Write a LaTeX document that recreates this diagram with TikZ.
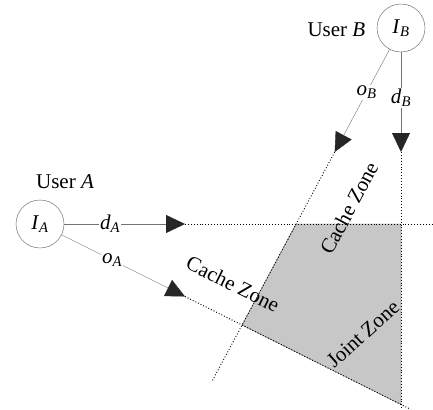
\documentclass[tikz,border=0pt]{standalone}
\usepackage{fontspec}
\setmainfont{Liberation Serif}
\usepackage{tikz}
\usetikzlibrary{arrows.meta,positioning}
\newcommand{\subvar}[2]{\textit{#1}\textsubscript{\textit{#2}}}

\begin{document}
\begin{tikzpicture}[
      x=1pt, y=-1pt,
      every node/.style={font=\fontsize{21}{25}\selectfont},
      user/.style={circle, draw=black!65, minimum size=48pt, inner sep=0pt},
      link/.style={draw=black!55, -{Triangle[length=19pt, width=18pt, color=black!85]}},
      guide/.style={dotted, line width=0.9pt},
      tag/.style={fill=white, inner sep=1pt},
      zone/.style={inner sep=0pt}
    ]
    \useasboundingbox (0,0) rectangle (433,409);
    % users
    \node[user] (ia) at (40,224) {\subvar{I}{A}};
    \node[user] (ib) at (401,28) {\subvar{I}{B}};
    \node (usera) at (65,182) {User \textit{A}};
    \node[left=8pt of ib, yshift=-2pt] (userb) {User \textit{B}};
    % arrow tips and corners of the joint zone
    \coordinate (da) at (185,224);
    \coordinate (oa) at (185,296.5);
    \coordinate (db) at (401,152);
    \coordinate (ob) at (334.7,152);
    \coordinate (tl) at (296,224);
    \coordinate (tr) at (401,224);
    \coordinate (br) at (401,404.5);
    \coordinate (bl) at (242.1,325);
    % joint zone
    \fill[black!22] (tl) -- (tr) -- (br) -- (bl) -- cycle;
    \draw[black!60] (tl) -- (tr) -- (br) -- (bl) -- cycle;
    % dotted guides
    \draw[guide] (da) -- (433,224);
    \draw[guide] (db) -- (401,409);
    \draw[guide] (oa) -- (410,409);
    \draw[guide] (ob) -- (211.6,382);
    % requests
    \draw[link] (ia) -- node[tag, pos=0.38] (lda) {\subvar{d}{A}} (da);
    \draw[link] (ia) -- node[tag, pos=0.41] (loa) {\subvar{o}{A}} (oa);
    \draw[link] (ib) -- node[tag, pos=0.46] (ldb) {\subvar{d}{B}} (db);
    \draw[link] (ib) -- node[tag, pos=0.42] (lob) {\subvar{o}{B}} (ob);
    % zone labels
    \node[zone, rotate=-26.57] (cachea) at (233,284) {Cache Zone};
    \node[zone, rotate=62] (cacheb) at (349,208) {Cache Zone};
    \node[zone, rotate=42] (joint) at (363,334) {Joint Zone};
  \end{tikzpicture}
\end{document}
